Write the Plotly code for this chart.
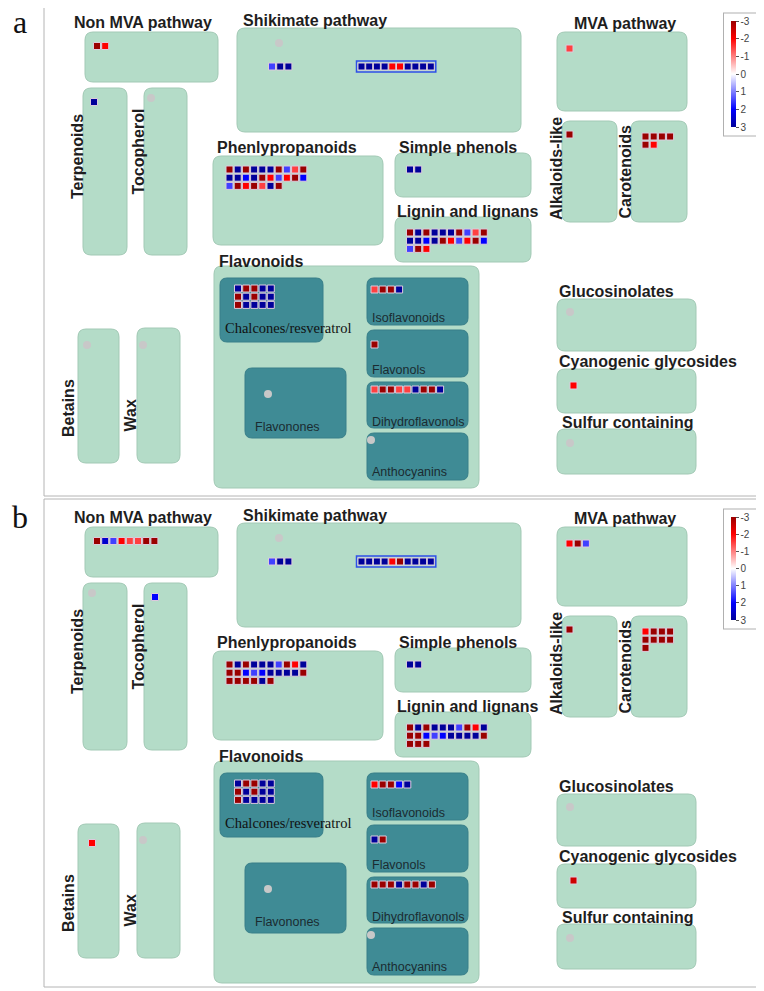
import plotly.graph_objects as go

# ---- data: fold-change per bin (red = negative, blue = positive) ----
# panel a
a_nonmva = [-3, -2]
a_terpenoids = [3]
a_shikimate_1 = [1.5, 3, 3]
a_shikimate_2 = [3, 3, 3, 3, -2, -2, 3, 3, 3, 3]
a_mva = [-1.5]
a_alkaloids = [-3]
a_carotenoids = [-3, -3, -3, -3,
                 -3, -2]
a_phenyl = [-3, 3, -3, 3, 3, 3, -3, 1.5, -1.5, -3,
            3, 3, 2, 3, -3, -2, 1.5, -2, -3, 2,
            1.5, -3, -2, -3, -1.5, 3, -3]
a_simple = [3, 3]
a_lignin = [-3, 3, -3, 3, 3, 3, -3, 1.5, -1.5, -3,
            3, 3, 2, 3, -3, -2, 1.5, -2, -3, 2,
            1.5, -3, -2]
a_chalcones = [3, -3, -3, 3, 3,
               -3, 3, -3, 3, 3,
               -3, 3, 3, 3, 3]
a_isoflav = [-1.5, -3, -3, 3]
a_flavonols = [-3]
a_dihydro = [-1.5, -3, -3, -1.5, -1.5, 3, -3, -3, 3]
a_cyanogenic = [-2]
a_empty = ['tocopherol', 'betains', 'wax', 'shikimate', 'flavonones',
           'anthocyanins', 'glucosinolates', 'sulfur']

# panel b
b_nonmva = [-3, 2.5, 1.5, -2, -1.5, -1.5, -3, -3]
b_tocopherol = [2]
b_betains = [-2]
b_shikimate_1 = [1.5, 3, 3]
b_shikimate_2 = [3, 3, 3, 3, -2, -3, 3, 3, 3, 3]
b_mva = [-2, -3, 1.5]
b_alkaloids = [-3]
b_carotenoids = [-2, -3, -3, -3,
                 -3, -3, -3, -3,
                 -3]
b_phenyl = [-3, 3, -3, 3, 3, 3, 1.5, -3, -2, 3,
            -3, -3, 2, 1.5, 2, 3, 3, 3, 3, -3,
            -3, -3, -3, -3, 3, -3]
b_simple = [3, 3]
b_lignin = [-3, 3, -3, 3, 3, 3, 1.5, -3, -2, 3,
            -3, -3, 2, 1.5, 2, 3, 3, 3, 3, -3,
            -3, -3, -3]
b_chalcones = [3, -3, -3, 3, 3,
               -3, 3, -3, 3, 3,
               -3, 3, 3, 3, 3]
b_isoflav = [-2, -3, -3, 2, 3]
b_flavonols = [3, -3]
b_dihydro = [-3, -3, -3, 3, -3, -3, 3, -3]
b_cyanogenic = [-2.5]
b_empty = ['terpenoids', 'wax', 'shikimate', 'flavonones',
           'anthocyanins', 'glucosinolates', 'sulfur']

scale_ticks = [-3, -2, -1, 0, 1, 2, 3]

# ---- layout of the map (pixel coords, panel a; panel b is shifted down) ----
PAGE_PAD = 8          # browser body margin, figure is shrunk to fit the window
W, H = 764, 991
B_OFFSET = 495
LIGHT, LIGHT_LINE = '#b4dcc8', '#a2c9b5'
TEAL, TEAL_LINE = '#3f8b95', '#387f89'
FONT = 'Liberation Sans, Arial, sans-serif'
SERIF = 'Liberation Serif, Times New Roman, serif'

BOXES = [
    (85, 32, 218, 82, 'l'),      # non MVA
    (83, 88, 127, 255, 'l'),     # terpenoids
    (144, 88, 187, 255, 'l'),    # tocopherol
    (78, 329, 119, 463, 'l'),    # betains
    (137, 328, 180, 463, 'l'),   # wax
    (237, 28, 521, 132, 'l'),    # shikimate
    (213, 156, 383, 245, 'l'),   # phenylpropanoids
    (395, 153, 531, 197, 'l'),   # simple phenols
    (395, 217, 531, 262, 'l'),   # lignin
    (214, 266, 479, 488, 'l'),   # flavonoids
    (220, 278, 323, 342, 't'),   # chalcones
    (245, 368, 346, 438, 't'),   # flavonones
    (367, 278, 468, 325, 't'),   # isoflavonoids
    (367, 330, 468, 377, 't'),   # flavonols
    (367, 382, 468, 428, 't'),   # dihydroflavonols
    (367, 433, 468, 480, 't'),   # anthocyanins
    (557, 32, 687, 111, 'l'),    # MVA
    (562, 121, 617, 222, 'l'),   # alkaloids-like
    (631, 121, 687, 222, 'l'),   # carotenoids
    (557, 299, 696, 351, 'l'),   # glucosinolates
    (557, 369, 696, 413, 'l'),   # cyanogenic
    (557, 429, 696, 474, 'l'),   # sulfur
]

# centre of first square, squares per row, grid step
BIN_POS = {
    'nonmva': (97, 46, 10, 8.2), 'terpenoids': (94, 102, 10, 8.2),
    'tocopherol': (155, 102, 10, 8.2), 'betains': (92, 348, 10, 8.2),
    'shikimate_1': (272, 66.5, 10, 8.2), 'shikimate_2': (361.5, 66.5, 10, 7.7),
    'mva': (569.5, 48.5, 10, 8.2), 'alkaloids': (569.5, 134.5, 10, 8.2),
    'carotenoids': (645.5, 136.5, 4, 8.2), 'phenyl': (229.5, 169.5, 10, 8.2),
    'simple': (410, 169.5, 10, 8.2), 'lignin': (410, 232.5, 10, 8.2),
    'chalcones': (238, 288.5, 5, 8.2), 'isoflav': (374.5, 289.5, 10, 8.2),
    'flavonols': (374.5, 344.5, 10, 8.2), 'dihydro': (374.5, 389.5, 10, 8.2),
    'cyanogenic': (573.5, 385.5, 10, 8.2),
}
DOT_POS = {
    'terpenoids': (92, 98), 'tocopherol': (151, 98), 'betains': (87, 345), 'wax': (143, 345),
    'shikimate': (279, 43), 'flavonones': (268, 394), 'anthocyanins': (371, 440),
    'glucosinolates': (570, 312), 'sulfur': (570, 443),
}

HEADERS = [  # text, x, y, xanchor
    ('Non MVA pathway', 143, 22, 'center'), ('Shikimate pathway', 241, 20, 'left'),
    ('MVA pathway', 624.5, 23, 'center'), ('Phenlypropanoids', 215, 147.5, 'left'),
    ('Simple phenols', 397, 147.5, 'left'), ('Lignin and lignans', 395, 211, 'left'),
    ('Flavonoids', 217, 261, 'left'), ('Glucosinolates', 557, 291, 'left'),
    ('Cyanogenic glycosides', 557, 361, 'left'), ('Sulfur containing', 560, 422.5, 'left'),
]
SIDE_LABELS = [
    ('Terpenoids', 77, 157), ('Tocopherol', 137.5, 152), ('Betains', 68, 408),
    ('Wax', 129.5, 416), ('Alkaloids-like', 556, 169), ('Carotenoids', 624.5, 172),
]
SUB_LABELS = [
    ('Isoflavonoids', 370, 318), ('Flavonols', 370, 369.5), ('Dihydroflavonols', 370, 422),
    ('Anthocyanins', 370, 472), ('Flavonones', 253, 427),
]

SCALE = [[0, '#00009a'], [1 / 6, '#0000ff'], [0.5, '#ffffff'], [5 / 6, '#ff0000'], [1, '#9a0000']]


def rounded(x0, y0, x1, y1, r):
    return (f"M{x0 + r},{y0} L{x1 - r},{y0} Q{x1},{y0} {x1},{y0 + r} "
            f"L{x1},{y1 - r} Q{x1},{y1} {x1 - r},{y1} L{x0 + r},{y1} "
            f"Q{x0},{y1} {x0},{y1 - r} L{x0},{y0 + r} Q{x0},{y0} {x0 + r},{y0} Z")


def square_grid(bins, dy):
    xs, ys, vals = [], [], []
    for name, values in bins.items():
        x0, y0, ncol, step = BIN_POS[name]
        for i, v in enumerate(values):
            xs.append(x0 + (i % ncol) * step)
            ys.append(y0 + dy + (i // ncol) * step)
            vals.append(-v)  # scale runs -3 (top, red) to 3 (bottom, blue)
    return xs, ys, vals


panels = [
    ('a', 0, 'coloraxis', a_empty, {
        'nonmva': a_nonmva, 'terpenoids': a_terpenoids, 'shikimate_1': a_shikimate_1,
        'shikimate_2': a_shikimate_2, 'mva': a_mva, 'alkaloids': a_alkaloids,
        'carotenoids': a_carotenoids, 'phenyl': a_phenyl, 'simple': a_simple,
        'lignin': a_lignin, 'chalcones': a_chalcones, 'isoflav': a_isoflav,
        'flavonols': a_flavonols, 'dihydro': a_dihydro, 'cyanogenic': a_cyanogenic}),
    ('b', B_OFFSET, 'coloraxis2', b_empty, {
        'nonmva': b_nonmva, 'tocopherol': b_tocopherol, 'betains': b_betains,
        'shikimate_1': b_shikimate_1, 'shikimate_2': b_shikimate_2, 'mva': b_mva,
        'alkaloids': b_alkaloids, 'carotenoids': b_carotenoids, 'phenyl': b_phenyl,
        'simple': b_simple, 'lignin': b_lignin, 'chalcones': b_chalcones,
        'isoflav': b_isoflav, 'flavonols': b_flavonols, 'dihydro': b_dihydro,
        'cyanogenic': b_cyanogenic}),
]

fig = go.Figure()
shapes, annotations = [], []

for letter, dy, cax, empty, bins in panels:
    # panel frame
    shapes.append(dict(type='rect', x0=44, x1=759, y0=4 + dy, y1=496 + dy - (4 if dy else 0),
                       line=dict(color='#b4b4b4', width=1), layer='below'))
    for x0, y0, x1, y1, kind in BOXES:
        fill, line = (LIGHT, LIGHT_LINE) if kind == 'l' else (TEAL, TEAL_LINE)
        shapes.append(dict(type='path', path=rounded(x0, y0 + dy, x1, y1 + dy, 8 if kind == 'l' else 7),
                           fillcolor=fill, line=dict(color=line, width=1), layer='below'))
    # highlighted shikimate bin
    sx, sy, _, sstep = BIN_POS['shikimate_2']
    n = len(bins['shikimate_2'])
    shapes.append(dict(type='rect', x0=sx - 5, x1=sx + (n - 1) * sstep + 5,
                       y0=sy + dy - 5.5, y1=sy + dy + 5.5,
                       line=dict(color='#2f4fe8', width=1.5), layer='below'))

    xs, ys, vals = square_grid(bins, dy)
    fig.add_trace(go.Scatter(
        x=xs, y=ys, mode='markers', hoverinfo='skip', showlegend=False,
        marker=dict(symbol='square', size=7, color=vals, coloraxis=cax,
                    line=dict(color='#dccbdc', width=1))))
    fig.add_trace(go.Scatter(
        x=[DOT_POS[k][0] for k in empty], y=[DOT_POS[k][1] + dy for k in empty],
        mode='markers', hoverinfo='skip', showlegend=False,
        marker=dict(symbol='circle', size=8, color='#c8c8c8')))

    annotations.append(dict(x=20, y=22 + dy, text=letter, showarrow=False,
                            font=dict(family=SERIF, size=32, color='#111111')))
    for text, x, y, anchor in HEADERS:
        annotations.append(dict(x=x, y=y + dy, text=f'<b>{text}</b>', showarrow=False,
                                xanchor=anchor, yanchor='middle',
                                font=dict(family=FONT, size=16, color='#1e1e1e')))
    for text, x, y in SIDE_LABELS:
        annotations.append(dict(x=x, y=y + dy, text=f'<b>{text}</b>', showarrow=False,
                                textangle=-90, font=dict(family=FONT, size=16, color='#1e1e1e')))
    for text, x, y in SUB_LABELS:
        annotations.append(dict(x=x, y=y + dy, text=text, showarrow=False, xanchor='left',
                                font=dict(family=FONT, size=12.5, color='#1b2b31')))
    annotations.append(dict(x=223, y=327.5 + dy, text='Chalcones/resveratrol', showarrow=False,
                            xanchor='left', font=dict(family=SERIF, size=14.5, color='#111111')))

fig_w, fig_h = W - PAGE_PAD, H - PAGE_PAD


def colorbar(top_px, length):
    return dict(
        cmin=-3, cmax=3, colorscale=SCALE,
        colorbar=dict(
            x=(724 - PAGE_PAD) / fig_w, xanchor='left',
            y=1 - (top_px - PAGE_PAD) / fig_h, yanchor='top',
            len=length, lenmode='pixels', thickness=5, thicknessmode='pixels',
            xpad=7, ypad=8, outlinewidth=0,
            bgcolor='white', bordercolor='#b0b0b0', borderwidth=1,
            tickvals=scale_ticks, ticktext=[str(-t) for t in scale_ticks],
            ticks='outside', ticklen=3, tickcolor='#555555',
            tickfont=dict(family=FONT, size=10, color='#444444')))


fig.update_layout(
    width=fig_w, height=fig_h,
    margin=dict(l=0, r=0, t=0, b=0),
    paper_bgcolor='white', plot_bgcolor='white',
    xaxis=dict(range=[PAGE_PAD, W], visible=False, fixedrange=True),
    yaxis=dict(range=[H, PAGE_PAD], visible=False, fixedrange=True),
    coloraxis=colorbar(13, 122),
    coloraxis2=colorbar(509, 119),
    shapes=shapes, annotations=annotations,
)

fig.write_html("out.html")
